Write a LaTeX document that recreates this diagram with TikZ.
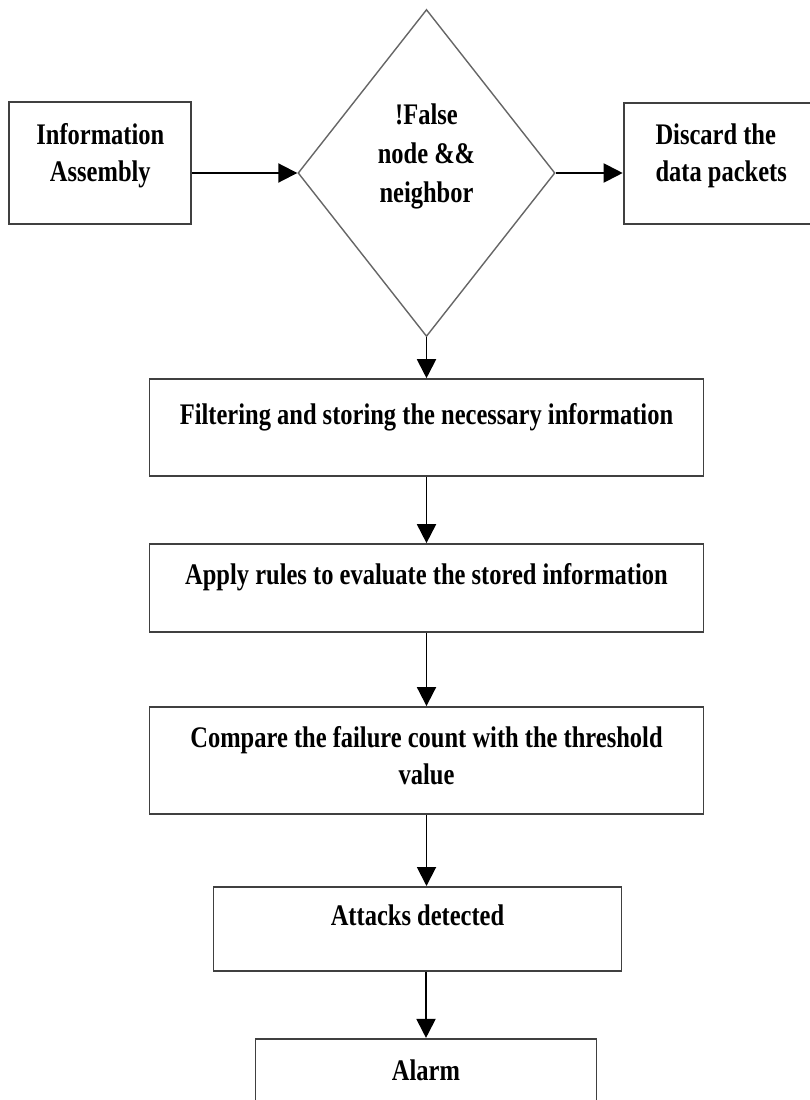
\documentclass[tikz,border=0pt]{standalone}
\usepackage{fontspec}
\setmainfont[FakeStretch=0.82]{Liberation Serif}
\usepackage{tikz}
\usetikzlibrary{positioning, arrows.meta, shapes.geometric}

\begin{document}
\begin{tikzpicture}[
  node distance=1.32cm and 2.1cm,
  box/.style={rectangle, draw=black!75, line width=1.1pt, minimum height=1.76cm,
              font=\fontsize{17pt}{21pt}\selectfont\bfseries, align=center, inner sep=0pt},
  stepbox/.style={box, minimum width=11.08cm, text depth=0.55cm},
  decision/.style={diamond, draw=black!60, line width=0.8pt, minimum width=5.14cm,
              minimum height=6.54cm, inner sep=0pt, align=center, text depth=0.8cm,
              font=\fontsize{17pt}{22pt}\selectfont\bfseries},
  arrow/.style={-{Triangle[length=0.38cm, width=0.38cm]}, line width=1.1pt, black},
]
  \useasboundingbox (0,0) rectangle (16.18,-22);

  \node[decision] (check) at (8.53,-3.46) {!False\\node \&\&\\neighbor};
  \node[box, left=2.1cm of check, yshift=0.2cm, minimum width=3.64cm,
        minimum height=2.44cm, text depth=0.43cm] (assembly) {Information\\Assembly};
  \node[box, right=1.34cm of check, yshift=0.19cm, minimum width=3.9cm,
        minimum height=2.42cm, text depth=0.43cm, align=left] (discard) {Discard the\\data packets};

  \node[stepbox, below=0.82cm of check, minimum height=1.94cm] (filter)
       {Filtering and storing the necessary information};
  \node[stepbox, below=1.32cm of filter] (apply)
       {Apply rules to evaluate the stored information};
  \node[stepbox, below=1.46cm of apply, minimum height=2.14cm, text depth=0.2cm] (compare)
       {Compare the failure count with the threshold\\value};
  \node[stepbox, below=1.42cm of compare, xshift=-0.18cm, minimum width=8.16cm,
        minimum height=1.68cm] (attacks) {Attacks detected};
  \node[stepbox, below=1.32cm of attacks, xshift=0.17cm, minimum width=6.82cm,
        minimum height=1.8cm] (alarm) {Alarm};

  \draw[arrow] (check.west -| assembly.east) -- (check.west);
  \draw[arrow] (check.east) -- (check.east -| discard.west);
  \draw[arrow] (check.south) -- (filter);
  \draw[arrow] (filter) -- (apply);
  \draw[arrow] (apply) -- (compare);
  \draw[arrow] (compare.south) -- (compare.south |- attacks.north);
  \draw[arrow] (alarm.north |- attacks.south) -- (alarm);
\end{tikzpicture}
\end{document}
